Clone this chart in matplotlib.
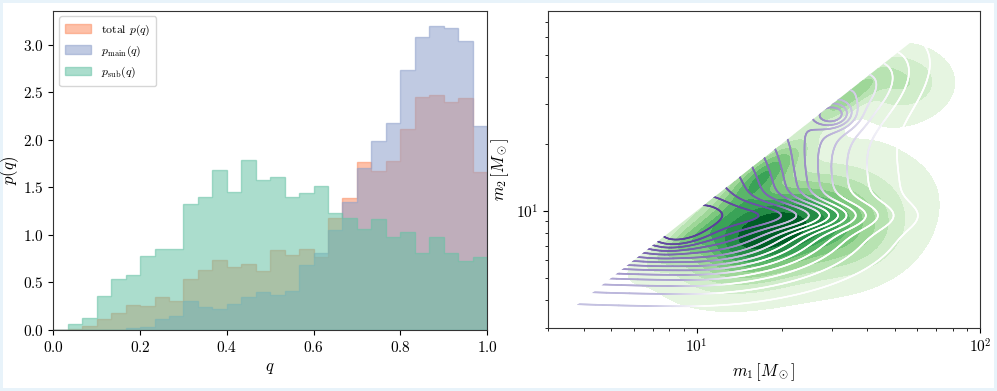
import numpy as np
import matplotlib
matplotlib.use("Agg")
import matplotlib.pyplot as plt
from matplotlib.collections import LineCollection
from matplotlib.patches import Polygon
from matplotlib.ticker import NullFormatter
import matplotlib.colors as mcolors

plt.rcParams['font.family'] = 'serif'
plt.rcParams['font.serif'] = ['cmr10', 'DejaVu Serif']
plt.rcParams['mathtext.fontset'] = 'cm'
plt.rcParams['axes.formatter.use_mathtext'] = True
plt.rcParams['axes.unicode_minus'] = False

# ---------------- data: histograms of q (30 bins on [0, 1]) ----------------
q_edges = np.linspace(0, 1, 31)
p_total = [0.0, 0.01, 0.046, 0.12, 0.175, 0.267, 0.253, 0.347, 0.309, 0.533,
           0.632, 0.733, 0.663, 0.695, 0.625, 0.839, 0.786, 0.849, 0.768, 1.18,
           1.39, 1.765, 1.677, 1.78, 2.116, 2.446, 2.477, 2.393, 2.435, 1.663]
p_main = [0.0, 0.0, 0.0, 0.0, 0.0, 0.025, 0.03, 0.112, 0.144, 0.305,
          0.239, 0.218, 0.27, 0.347, 0.396, 0.365, 0.41, 0.68, 0.807, 1.053,
          1.347, 1.70, 1.993, 2.175, 2.733, 3.084, 3.2, 3.175, 3.035, 2.147]
p_sub = [0.0, 0.06, 0.123, 0.354, 0.533, 0.575, 0.775, 0.853, 0.853, 1.326,
         1.396, 1.688, 1.456, 1.786, 1.575, 1.614, 1.396, 1.439, 1.516, 1.228,
         1.175, 1.06, 1.165, 0.979, 1.028, 0.807, 0.975, 0.807, 0.726, 0.765]
hist_labels = [r'total $p(q)$', r'$p_{\rm main}(q)$', r'$p_{\rm sub}(q)$']
hist_colors = ['#fc8d62', '#8da0cb', '#66c2a5']

# ---------------- data: 2D density shapes in (log10 m1, log10 m2) ----------------
# green (filled) density: gaussian components  u, v, sigma_u, sigma_v, rho, weight
main_u = [1.23, 1.25, 1.52, 1.72, 1.52, 0.95, 1.35]
main_v = [0.90, 1.18, 1.50, 1.58, 0.92, 0.85, 0.95]
main_su = [0.16, 0.10, 0.08, 0.11, 0.13, 0.09, 0.30]
main_sv = [0.13, 0.10, 0.08, 0.10, 0.13, 0.08, 0.22]
main_rho = [0.35, 0.8, 0.8, 0.0, 0.0, 0.8, 0.3]
main_w = [1.0, 0.60, 0.50, 0.35, 0.35, 0.30, 0.30]

# purple (line) density: broad split-gaussian + gaussian components
sub_core_uv = [0.97, 0.95]
sub_core_sig = [0.8, 0.34, 0.17, 0.55]   # left, right, down, up
sub_core_w = 1.0
sub_u = [0.96, 1.35, 1.48, 1.58]
sub_v = [0.93, 0.98, 1.43, 1.55]
sub_su = [0.07, 0.20, 0.05, 0.15]
sub_sv = [0.06, 0.045, 0.04, 0.15]
sub_rho = [0.5, 0.0, 0.0, 0.5]
sub_w = [0.35, 0.28, 0.25, 0.25]

m1_lim = (3, 100)
m2_lim = (3, 79)

fig = plt.figure(figsize=(9.97, 3.91), dpi=100)
fig.patch.set_facecolor('white')
fig.patch.set_edgecolor('#e8f3fa')
fig.patch.set_linewidth(3)

# ---------------- left panel ----------------
ax1 = fig.add_axes([0.0535, 0.156, 0.435, 0.817])
centers = 0.5 * (q_edges[:-1] + q_edges[1:])
for vals, lab, col in zip([p_total, p_main, p_sub], hist_labels, hist_colors):
    ax1.hist(centers, bins=q_edges, weights=vals, histtype='stepfilled',
             alpha=0.55, color=col, edgecolor=col, linewidth=1.0, label=lab)
ax1.set_xlim(0, 1)
ax1.set_ylim(0, 3.36)
ax1.set_xlabel(r'$q$', fontsize=12)
ax1.set_ylabel(r'$p(q)$', fontsize=12, labelpad=1)
ax1.tick_params(labelsize=11)
leg = ax1.legend(loc='upper left', fontsize=8.5, frameon=True, fancybox=True,
                 borderpad=0.5, handlelength=2.2)
leg.get_frame().set_edgecolor('#cccccc')

# ---------------- right panel ----------------
ax2 = fig.add_axes([0.55, 0.162, 0.433, 0.811])
ax2.set_xscale('log')
ax2.set_yscale('log')

u = np.linspace(np.log10(m1_lim[0]), np.log10(m1_lim[1]), 500)
v = np.linspace(np.log10(m2_lim[0]), np.log10(m2_lim[1]), 500)
U, V = np.meshgrid(u, v)
M1, M2 = 10 ** U, 10 ** V


def mixture(cu, cv, su, sv, rho, w):
    Z = np.zeros_like(U)
    for a, b, s1, s2, r, ww in zip(cu, cv, su, sv, rho, w):
        x = (U - a) / s1
        y = (V - b) / s2
        Z += ww * np.exp(-(x * x - 2 * r * x * y + y * y) / (2 * (1 - r * r)))
    return Z


def split_core(c, sig):
    du = U - c[0]
    dv = V - c[1]
    su = np.where(du < 0, sig[0], sig[1])
    sv = np.where(dv < 0, sig[2], sig[3])
    return np.exp(-0.5 * ((du / su) ** 2 + (dv / sv) ** 2))


def iso_levels(Z, props):
    vals = Z[V <= U]
    s = np.sort(vals)[::-1]
    c = np.cumsum(s)
    c /= c[-1]
    idx = np.searchsorted(c, 1 - np.asarray(props))
    return np.take(s, idx, mode='clip')


Zg = mixture(main_u, main_v, main_su, main_sv, main_rho, main_w)
Zp = sub_core_w * split_core(sub_core_uv, sub_core_sig) + \
    mixture(sub_u, sub_v, sub_su, sub_sv, sub_rho, sub_w)

tri = Polygon([(m1_lim[0], m1_lim[0]), (m1_lim[1], m1_lim[1]), (m1_lim[1], m2_lim[0]),
               (m1_lim[0], m2_lim[0])], closed=True, transform=ax2.transData,
              facecolor='none', edgecolor='none')

g_levels = np.unique(iso_levels(Zg, np.linspace(0.05, 1, 10)))
g_levels = np.append(g_levels, Zg.max() * 1.01)
g_cmap = mcolors.ListedColormap(plt.cm.Greens(np.linspace(0.12, 0.92, len(g_levels) - 1)))
cf = ax2.contourf(M1, M2, Zg, levels=g_levels, cmap=g_cmap)
cf.set_clip_path(tri)

p_levels = np.unique(iso_levels(Zp, np.linspace(0.06, 0.93, 14)))
cs = ax2.contour(M1, M2, Zp, levels=p_levels)
allsegs = cs.allsegs
cs.remove()
inner = np.array(mcolors.to_rgb('#5b3f9c'))
outer = np.array(mcolors.to_rgb('#c4c1e1'))
nlev = len(p_levels)
for i, segs in enumerate(allsegs):
    t = i / max(nlev - 1, 1)
    base = outer * (1 - t) + inner * t
    for seg in segs:
        if len(seg) < 2:
            continue
        pts = seg.reshape(-1, 1, 2)
        lines = np.concatenate([pts[:-1], pts[1:]], axis=1)
        mid = 0.5 * (seg[:-1] + seg[1:])
        lu = np.log10(mid[:, 0])
        lv = np.log10(mid[:, 1])
        wfade = np.clip(np.maximum((lu - lv - 0.25) / 0.2, (lu - 1.4) / 0.3), 0, 1)
        cols = base[None, :] * (1 - wfade[:, None]) + wfade[:, None]
        lc = LineCollection(lines, colors=cols, linewidths=1.2, capstyle='round')
        lc.set_clip_path(tri)
        ax2.add_collection(lc)

ax2.set_xlim(*m1_lim)
ax2.set_ylim(*m2_lim)
ax2.xaxis.set_minor_formatter(NullFormatter())
ax2.yaxis.set_minor_formatter(NullFormatter())
ax2.set_xlabel(r'$m_1\,[M_\odot]$', fontsize=12)
ax2.set_ylabel(r'$m_2\,[M_\odot]$', fontsize=12)
ax2.tick_params(labelsize=11)

for ax in (ax1, ax2):
    for sp in ax.spines.values():
        sp.set_color('#333333')

fig.savefig('out.png', dpi=100)
